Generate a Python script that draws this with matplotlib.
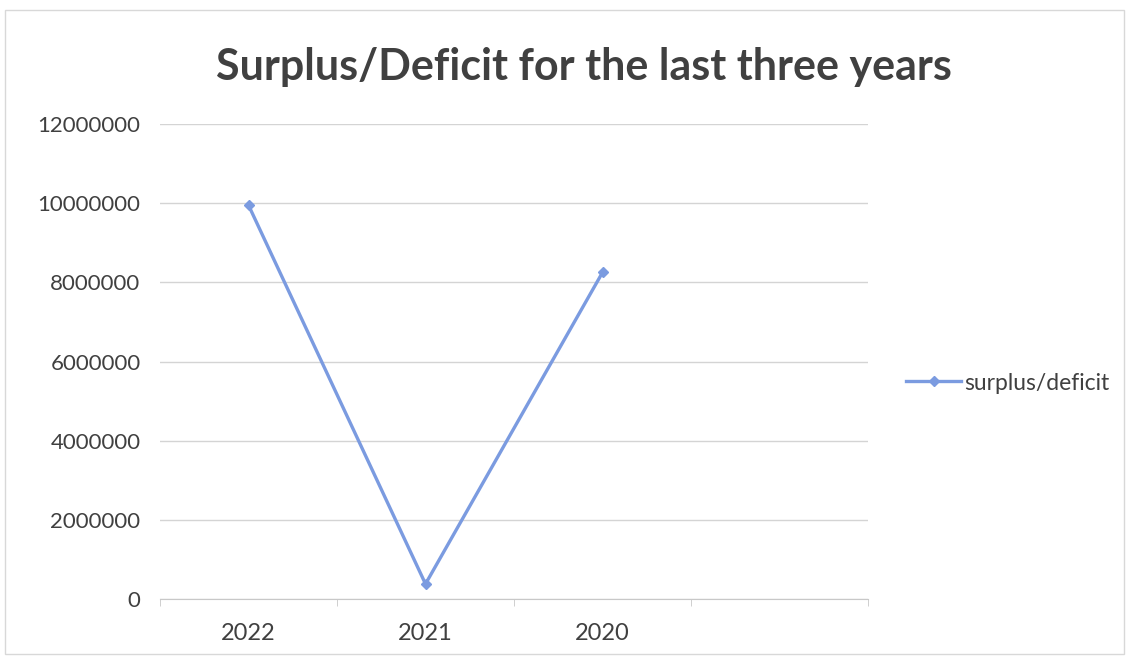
import matplotlib.pyplot as plt
from matplotlib.patches import Rectangle

years = ["2022", "2021", "2020", ""]
surplus = [9950000, 380000, 8250000]

plt.rcParams["font.family"] = ["Lato", "DejaVu Sans"]
text_color = "#404040"
line_color = "#7b9be0"

fig = plt.figure(figsize=(11.31, 6.61), dpi=100)
ax = fig.add_axes([160 / 1131, 62 / 661, 708 / 1131, 475 / 661])

x = list(range(len(surplus)))
ax.plot(x, surplus, color=line_color, lw=2.4, marker="D", ms=5.5,
        label="surplus/deficit")

ax.set_xlim(-0.5, len(years) - 0.5)
ax.set_ylim(0, 12000000)
ax.set_yticks(range(0, 12000001, 2000000))
ax.set_yticklabels([str(v) for v in range(0, 12000001, 2000000)])
ax.set_xticks(range(len(years)))
ax.set_xticklabels(years)
ax.set_xticks([i - 0.5 for i in range(len(years) + 1)], minor=True)

ax.grid(axis="y", color="#d4d4d4", lw=1)
ax.set_axisbelow(True)
for side in ["top", "right", "left"]:
    ax.spines[side].set_visible(False)
ax.spines["bottom"].set_color("#c8c8c8")
ax.tick_params(axis="y", length=0, pad=14, labelsize=16, labelcolor=text_color)
ax.tick_params(axis="x", which="major", length=0, pad=17, labelsize=17,
               labelcolor=text_color)
ax.tick_params(axis="x", which="minor", length=5, color="#c8c8c8")

fig.text(584 / 1131, 1 - 67 / 661, "Surplus/Deficit for the last three years",
         ha="center", va="center", fontsize=31, fontweight="bold",
         color=text_color)

ax.legend(loc="center left", bbox_to_anchor=(906 / 1131, 1 - 383 / 661),
          bbox_transform=fig.transFigure, borderaxespad=0, borderpad=0,
          frameon=False, fontsize=16.5, labelcolor=text_color,
          handlelength=2.4, handletextpad=0.15)

fig.patches.append(Rectangle((0.004, 0.01), 0.99, 0.975, transform=fig.transFigure,
                             fill=False, edgecolor="#d8d8d8", lw=1))

fig.savefig("out.png", dpi=100)
